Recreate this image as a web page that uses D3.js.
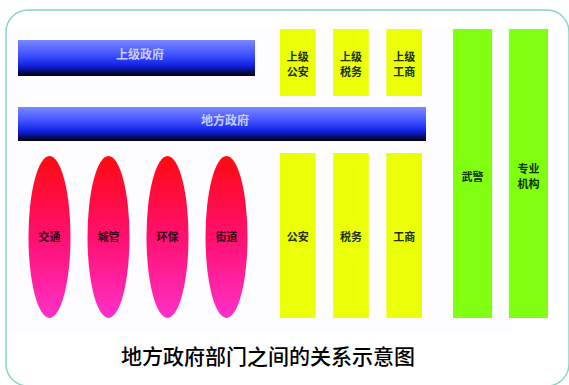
<!DOCTYPE html>
<html><head><meta charset="utf-8">
<script src="https://cdn.jsdelivr.net/npm/d3@7/dist/d3.min.js"></script>
<style>body{margin:0;background:#fff}svg{display:block}</style>
</head><body>
<script>
const govBars = ["上级政府", "地方政府"];
const govSpan = [237, 408];
const localDepts = ["交通", "城管", "环保", "街道"];
const upperDepts = ["上级\n公安", "上级\n税务", "上级\n工商"];
const lowerDepts = ["公安", "税务", "工商"];
const verticalDepts = ["武警", "专业\n机构"];
const title = "地方政府部门之间的关系示意图";

const W = 569, H = 385;
const svg = d3.select("body").append("svg").attr("width", W).attr("height", H);
const defs = svg.append("defs");
const gb = defs.append("linearGradient").attr("id","gblue").attr("x1",0).attr("y1",0).attr("x2",0).attr("y2",1);
gb.append("stop").attr("offset","0%").attr("stop-color","#7c88ff");
gb.append("stop").attr("offset","45%").attr("stop-color","#3a4cff");
gb.append("stop").attr("offset","72%").attr("stop-color","#1020e0");
gb.append("stop").attr("offset","100%").attr("stop-color","#000008");
const gr = defs.append("linearGradient").attr("id","gred").attr("x1",0).attr("y1",0).attr("x2",0).attr("y2",1);
gr.append("stop").attr("offset","0%").attr("stop-color","#ff0a10");
gr.append("stop").attr("offset","50%").attr("stop-color","#ff1070");
gr.append("stop").attr("offset","100%").attr("stop-color","#ff30c8");

// frame
svg.append("rect").attr("x",6).attr("y",10).attr("width",563).attr("height",376)
  .attr("rx",22).attr("fill","#fff").attr("stroke","#86d6c2").attr("stroke-width",1.5);
// faint picture panel
svg.append("rect").attr("x",10).attr("y",28).attr("width",502).attr("height",305).attr("fill","#fdfcff");

// gov bars
const xGov = d3.scaleLinear().domain([0, 408]).range([18, 426]);
const gg = svg.append("g");
govBars.forEach((name,i)=>{
  const y = [40,107][i], h = [36,34][i];
  gg.append("rect").attr("x",xGov(0)).attr("y",y).attr("width",xGov(govSpan[i])-xGov(0)).attr("height",h)
    .attr("fill","url(#gblue)");
  gg.append("text").attr("x",[140,225][i]).attr("y",y+h/2-2).attr("text-anchor","middle")
    .attr("dominant-baseline","middle").attr("fill","#c8ceff").attr("font-size",12).attr("font-weight","bold")
    .attr("font-family","Noto Sans CJK SC").text(name);
});

// ellipses
const xE = d3.scaleBand().domain(localDepts).range([20,256]);
const eg = svg.append("g");
eg.selectAll("ellipse").data(localDepts).join("ellipse")
  .attr("cx",d=>xE(d)+xE.bandwidth()/2).attr("cy",237).attr("rx",21).attr("ry",81)
  .attr("fill","url(#gred)");
eg.selectAll("text").data(localDepts).join("text")
  .attr("x",d=>xE(d)+xE.bandwidth()/2).attr("y",241).attr("text-anchor","middle")
  .attr("font-size",11).attr("font-weight","bold").attr("fill","#300010")
  .attr("font-family","Noto Sans CJK SC").text(d=>d);

// yellow
const xY = d3.scaleBand().domain(d3.range(3)).range([280,422]).paddingInner(0.33);
const yg = svg.append("g");
yg.selectAll("rect.u").data(upperDepts).join("rect").attr("class","u")
  .attr("x",(d,i)=>xY(i)).attr("y",29).attr("width",xY.bandwidth()).attr("height",67).attr("fill","#eaff08");
yg.selectAll("rect.l").data(lowerDepts).join("rect").attr("class","l")
  .attr("x",(d,i)=>xY(i)).attr("y",153).attr("width",xY.bandwidth()).attr("height",165).attr("fill","#eaff08");
upperDepts.forEach((d,i)=>{
  d.split("\n").forEach((t,j)=>{
    yg.append("text").attr("x",xY(i)+xY.bandwidth()/2).attr("y",61+j*15).attr("text-anchor","middle")
      .attr("font-size",11).attr("font-weight","bold").attr("fill","#203000")
      .attr("font-family","Noto Sans CJK SC").text(t);
  });
});
yg.selectAll("text.l").data(lowerDepts).join("text").attr("class","l")
  .attr("x",(d,i)=>xY(i)+xY.bandwidth()/2).attr("y",241).attr("text-anchor","middle")
  .attr("font-size",11).attr("font-weight","bold").attr("fill","#203000")
  .attr("font-family","Noto Sans CJK SC").text(d=>d);

// green
const xG = d3.scaleBand().domain(verticalDepts).range([453,548]).paddingInner(0.3);
const ggr = svg.append("g");
ggr.selectAll("rect").data(verticalDepts).join("rect")
  .attr("x",d=>xG(d)).attr("y",29).attr("width",xG.bandwidth()).attr("height",289).attr("fill","#80ff10");
verticalDepts.forEach(d=>{
  const lines = d.split("\n");
  lines.forEach((t,j)=>{
    ggr.append("text").attr("x",xG(d)+xG.bandwidth()/2).attr("y",(lines.length===1?181:173)+j*15)
      .attr("text-anchor","middle").attr("font-size",11).attr("font-weight","bold").attr("fill","#103000")
      .attr("font-family","Noto Sans CJK SC").text(t);
  });
});

// title
svg.append("text").attr("x",268).attr("y",364).attr("text-anchor","middle")
  .attr("font-size",21).attr("font-weight",500).attr("fill","#000").attr("font-family","Noto Sans CJK SC").text(title);
</script>
</body></html>
